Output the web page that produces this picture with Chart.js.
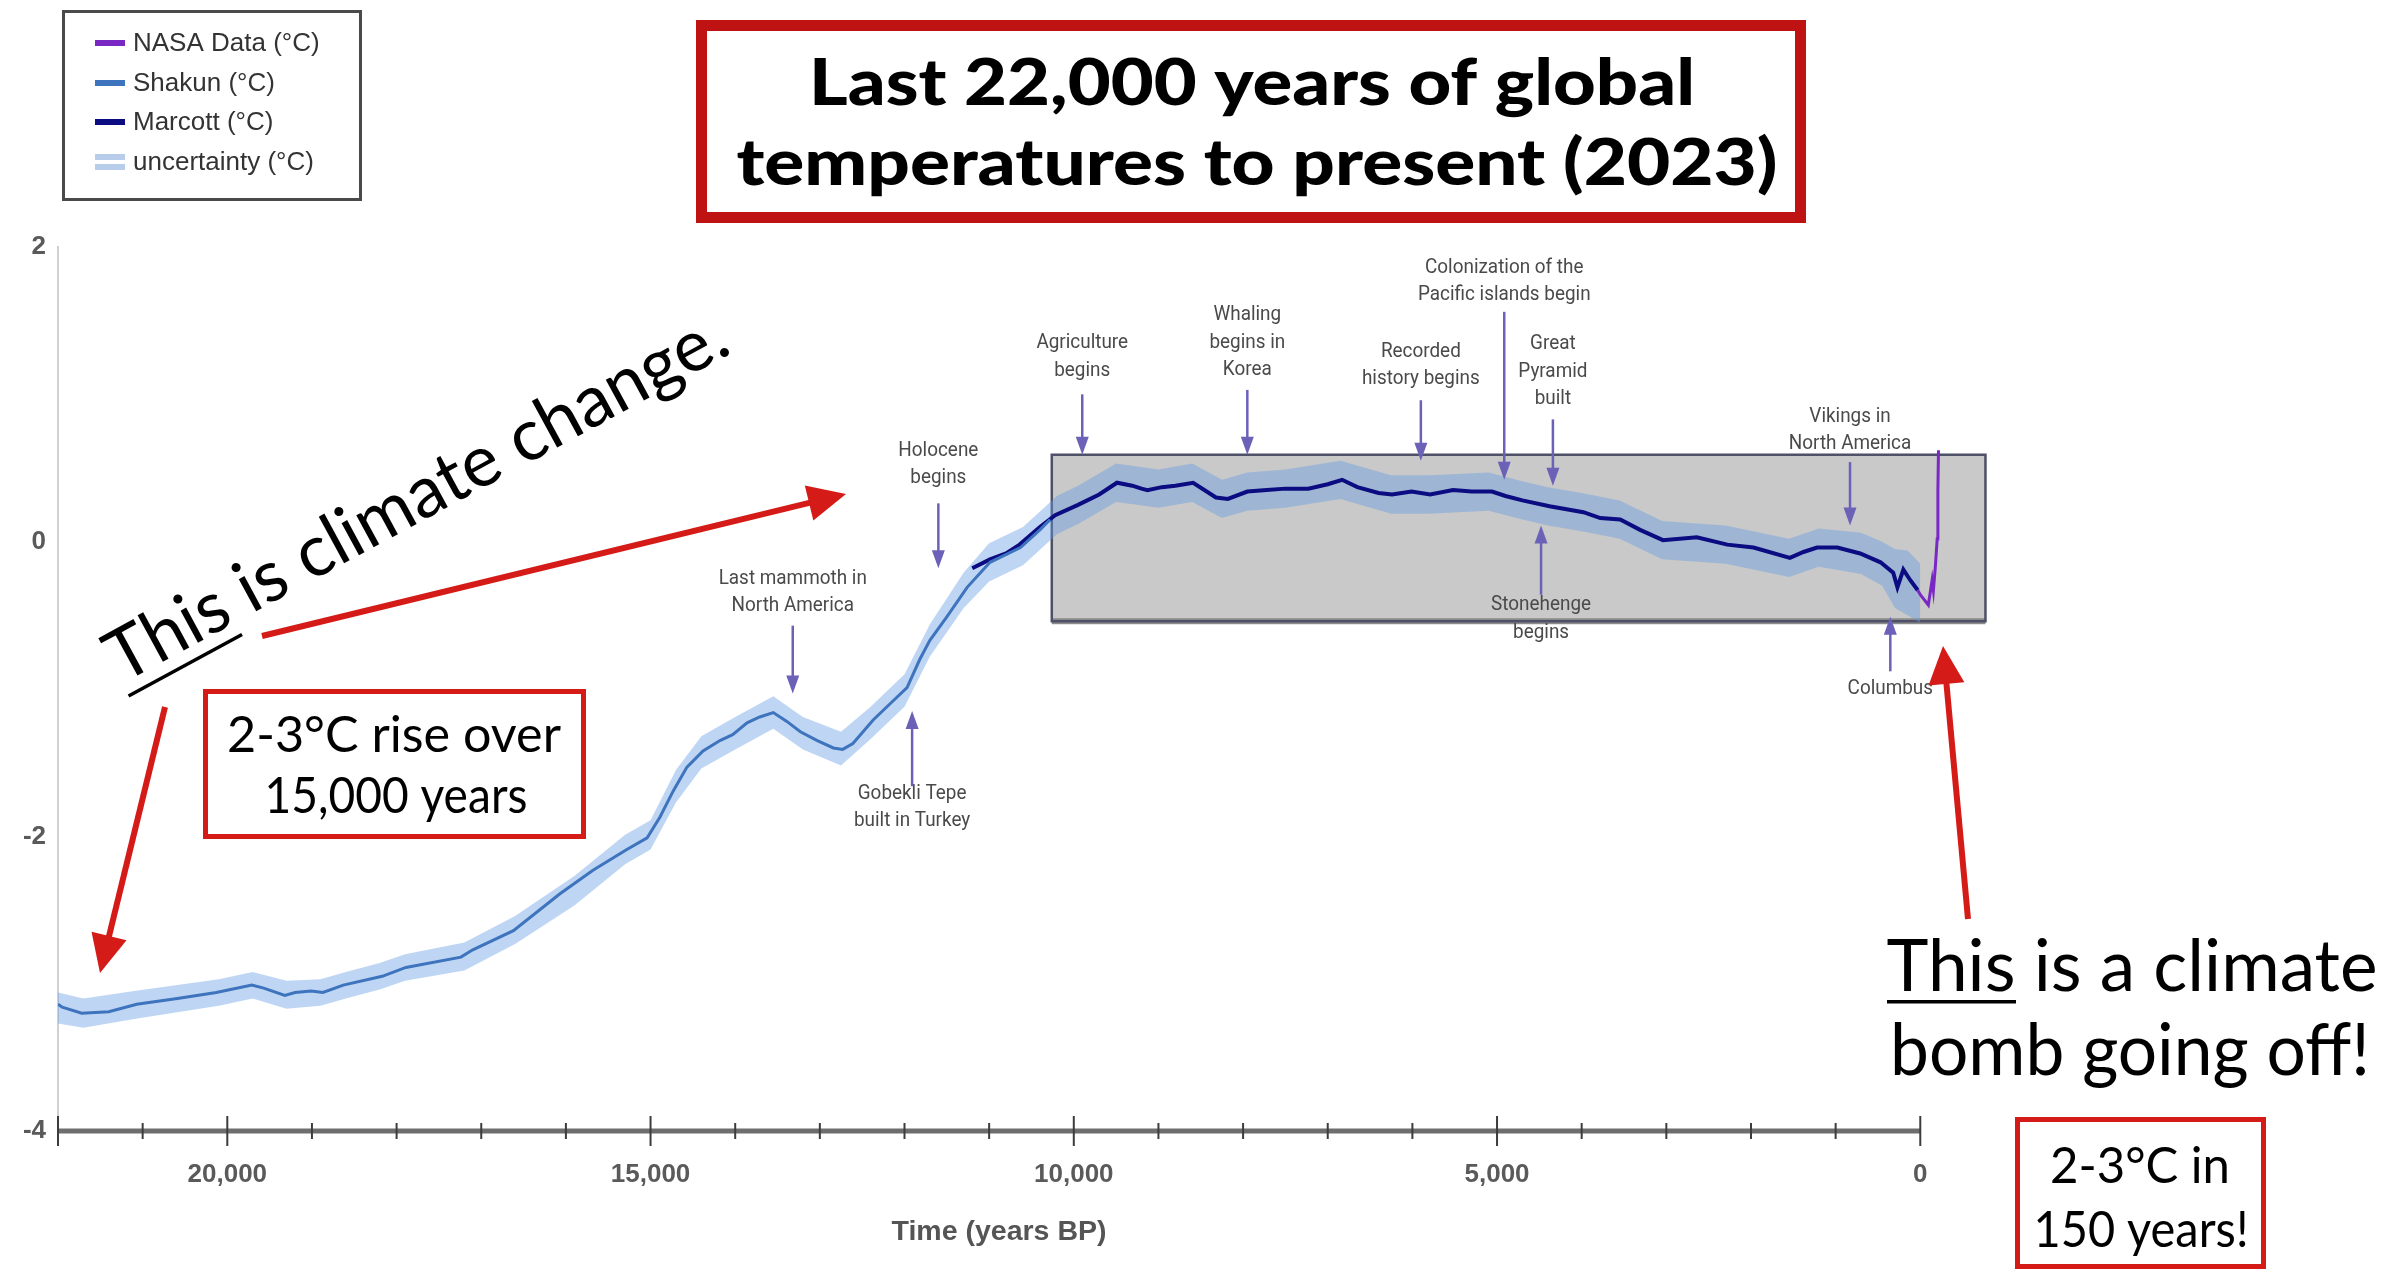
<!DOCTYPE html>
<html>
<head>
<meta charset="utf-8">
<script src="https://cdn.jsdelivr.net/npm/chart.js@4.4.1/dist/chart.umd.min.js"></script>
<style>
  html, body { margin: 0; padding: 0; background: #fff; overflow: hidden; }
  #wrap { position: relative; width: 2390px; height: 1274px; }
</style>
</head>
<body>
<div id="wrap"><canvas id="chart" width="2390" height="1274"></canvas></div>
<script>
// years before present (BP) and temperature anomaly (°C)
const YEARS_SHAKUN = [22000, 21950, 21720, 21400, 21070, 20590, 20130, 19710, 19570, 19320, 19200, 19010, 18870, 18630, 18170, 17890, 17240, 17100, 16620, 16070, 15680, 15280, 15040, 14890, 14730, 14570, 14380, 14180, 14030, 13860, 13710, 13550, 13390, 13230, 13030, 12840, 12730, 12610, 12370, 12170, 11970, 11820, 11700, 11500, 11260, 10990, 10630, 10400, 10280];
const TEMP_SHAKUN  = [-3.14, -3.16, -3.20, -3.19, -3.14, -3.10, -3.06, -3.01, -3.03, -3.08, -3.06, -3.05, -3.06, -3.01, -2.95, -2.89, -2.82, -2.77, -2.64, -2.39, -2.23, -2.09, -2.01, -1.87, -1.69, -1.53, -1.42, -1.35, -1.31, -1.23, -1.19, -1.16, -1.22, -1.29, -1.35, -1.40, -1.41, -1.37, -1.21, -1.10, -0.99, -0.80, -0.67, -0.51, -0.31, -0.14, -0.04, 0.08, 0.15];

const YEARS_MARCOTT = [11200, 10990, 10800, 10640, 10400, 10220, 9950, 9700, 9490, 9310, 9200, 9130, 8960, 8800, 8590, 8320, 8180, 7950, 7720, 7500, 7230, 7000, 6830, 6650, 6400, 6240, 6010, 5790, 5520, 5300, 5060, 4900, 4700, 4380, 3980, 3780, 3545, 3310, 3040, 2640, 2280, 1970, 1540, 1380, 1220, 980, 710, 470, 320, 270, 200, 120, 30];
const TEMP_MARCOTT  = [-0.18, -0.12, -0.08, -0.02, 0.10, 0.18, 0.25, 0.32, 0.40, 0.38, 0.36, 0.35, 0.37, 0.38, 0.40, 0.30, 0.29, 0.34, 0.35, 0.36, 0.36, 0.39, 0.42, 0.37, 0.33, 0.32, 0.34, 0.32, 0.35, 0.34, 0.34, 0.31, 0.28, 0.24, 0.20, 0.16, 0.15, 0.08, 0.01, 0.03, -0.02, -0.04, -0.11, -0.07, -0.04, -0.04, -0.08, -0.14, -0.21, -0.31, -0.19, -0.26, -0.33];

const YEARS_NASA = [30, 0, -95, -140, -155, -178, -200, -208, -215];
const TEMP_NASA  = [-0.33, -0.36, -0.43, -0.26, -0.33, -0.17, 0.02, 0.35, 0.62];

const YEARS_BAND = [22000, 21700, 21100, 20100, 19700, 19300, 18900, 18600, 18200, 17900, 17200, 16600, 15900, 15300, 15000, 14700, 14400, 14000, 13550, 13200, 12750, 12400, 12000, 11700, 11300, 11000, 10600, 10200, 9950, 9500, 9000, 8600, 8250, 7950, 7500, 6850, 6250, 5800, 5100, 4700, 4400, 4000, 3550, 3050, 2300, 1550, 1200, 700, 450, 300, 150, 0];
const BAND_HIGH  = [-3.06, -3.10, -3.05, -2.97, -2.92, -2.98, -2.97, -2.92, -2.86, -2.80, -2.72, -2.54, -2.27, -1.99, -1.89, -1.55, -1.32, -1.19, -1.05, -1.19, -1.29, -1.12, -0.90, -0.56, -0.21, -0.01, 0.10, 0.31, 0.38, 0.53, 0.49, 0.53, 0.42, 0.47, 0.49, 0.55, 0.45, 0.45, 0.47, 0.41, 0.37, 0.33, 0.28, 0.14, 0.11, 0.02, 0.09, 0.06, 0.00, -0.05, -0.06, -0.15];
const BAND_LOW   = [-3.27, -3.30, -3.24, -3.15, -3.10, -3.17, -3.15, -3.10, -3.04, -2.98, -2.91, -2.73, -2.47, -2.19, -2.09, -1.77, -1.54, -1.41, -1.27, -1.41, -1.52, -1.34, -1.12, -0.78, -0.45, -0.27, -0.16, 0.05, 0.12, 0.27, 0.23, 0.27, 0.16, 0.21, 0.23, 0.29, 0.19, 0.19, 0.21, 0.15, 0.11, 0.07, 0.02, -0.12, -0.15, -0.24, -0.17, -0.22, -0.30, -0.45, -0.50, -0.55];

const X_TICK_YEARS = [22000, 21000, 20000, 19000, 18000, 17000, 16000, 15000, 14000, 13000, 12000, 11000, 10000, 9000, 8000, 7000, 6000, 5000, 4000, 3000, 2000, 1000, 0];
const X_LABELED = [20000, 15000, 10000, 5000, 0];
const Y_TICKS = [2, 0, -2, -4];

// highlighted Holocene window: years (left, right) and temps (bottom, top)
const BOX_YEARS = [10260, -770];
const BOX_TEMPS = [-0.54, 0.59];

// event callouts: year, text lines, temp of first text line, arrow from/to temps
const EVENTS = [
  { year: 13320, lines: ['Last mammoth in', 'North America'], text: -0.25, from: -0.57, to: -1.03 },
  { year: 11910, lines: ['Gobekli Tepe', 'built in Turkey'], text: -1.71, from: -1.66, to: -1.15 },
  { year: 11600, lines: ['Holocene', 'begins'], text: 0.62, from: 0.26, to: -0.18 },
  { year: 9900,  lines: ['Agriculture', 'begins'], text: 1.35, from: 1.00, to: 0.59 },
  { year: 7950,  lines: ['Whaling', 'begins in', 'Korea'], text: 1.54, from: 1.03, to: 0.59 },
  { year: 5900,  lines: ['Recorded', 'history begins'], text: 1.29, from: 0.96, to: 0.55 },
  { year: 4915,  lines: ['Colonization of the', 'Pacific islands begin'], text: 1.86, from: 1.56, to: 0.42 },
  { year: 4340,  lines: ['Great', 'Pyramid', 'built'], text: 1.34, from: 0.83, to: 0.38 },
  { year: 4480,  lines: ['Stonehenge', 'begins'], text: -0.43, from: -0.36, to: 0.11 },
  { year: 830,   lines: ['Vikings in', 'North America'], text: 0.85, from: 0.54, to: 0.11 },
  { year: 354,   lines: ['Columbus'], text: -1.00, from: -0.88, to: -0.51 }
];

const pts = (xs, ys) => xs.map((x, i) => ({ x: x, y: ys[i] }));

const RED = '#d51b17';

function arrow(ctx, x1, y1, x2, y2, color, width, headLen, headW) {
  const a = Math.atan2(y2 - y1, x2 - x1);
  const c = Math.cos(a), s = Math.sin(a);
  ctx.strokeStyle = color;
  ctx.fillStyle = color;
  ctx.lineWidth = width;
  ctx.beginPath();
  ctx.moveTo(x1, y1);
  ctx.lineTo(x2 - c * headLen * 0.8, y2 - s * headLen * 0.8);
  ctx.stroke();
  ctx.beginPath();
  ctx.moveTo(x2, y2);
  ctx.lineTo(x2 - headLen * c + headW / 2 * s, y2 - headLen * s - headW / 2 * c);
  ctx.lineTo(x2 - headLen * c - headW / 2 * s, y2 - headLen * s + headW / 2 * c);
  ctx.closePath();
  ctx.fill();
}

// draw a line of text squeezed/stretched to a given width
function fitText(ctx, str, x, y, w, font, color, align) {
  ctx.save();
  ctx.font = font;
  ctx.fillStyle = color;
  const k = w / ctx.measureText(str).width;
  ctx.translate(x, y);
  ctx.scale(k, 1);
  ctx.textAlign = align || 'center';
  ctx.textBaseline = 'alphabetic';
  ctx.fillText(str, 0, 0);
  ctx.restore();
  return k;
}

const decor = {
  id: 'decor',
  beforeDatasetsDraw(chart) {
    const { ctx, scales: { x, y } } = chart;
    const x1 = x.getPixelForValue(BOX_YEARS[0]), x2 = x.getPixelForValue(BOX_YEARS[1]);
    const y1 = y.getPixelForValue(BOX_TEMPS[1]), y2 = y.getPixelForValue(BOX_TEMPS[0]);
    ctx.save();
    ctx.fillStyle = '#c9c9c9';
    ctx.fillRect(x1, y1, x2 - x1, y2 - y1);
    ctx.fillStyle = '#8c8c8c';
    ctx.fillRect(x1, y2 - 3, x2 - x1, 6);
    ctx.strokeStyle = '#4d5066';
    ctx.lineWidth = 2.5;
    ctx.strokeRect(x1, y1, x2 - x1, y2 - y1);
    ctx.restore();
  },
  afterDatasetsDraw(chart) {
    const { ctx, scales: { x, y } } = chart;
    ctx.save();
    ctx.font = '21px Roboto';
    ctx.textAlign = 'center';
    ctx.textBaseline = 'middle';
    EVENTS.forEach(ev => {
      const px = x.getPixelForValue(ev.year);
      const ty = y.getPixelForValue(ev.text);
      ev.lines.forEach((l, i) => {
        ctx.save();
        ctx.translate(px, ty + i * 27.5);
        ctx.scale(0.9, 1);
        ctx.fillStyle = '#4a4a4a';
        ctx.fillText(l, 0, 0);
        ctx.restore();
      });
      arrow(ctx, px, y.getPixelForValue(ev.from), px, y.getPixelForValue(ev.to), '#6b62b8', 2.5, 18, 13);
    });
    ctx.restore();
  },
  afterDraw(chart) {
    const { ctx, scales: { x } } = chart;
    const base = chart.chartArea.bottom;
    ctx.save();

    // x axis line and tick marks, 22,000 BP to present
    ctx.strokeStyle = '#6e6e6e';
    ctx.lineWidth = 5;
    ctx.beginPath();
    ctx.moveTo(x.getPixelForValue(22000), base);
    ctx.lineTo(x.getPixelForValue(0), base);
    ctx.stroke();
    ctx.strokeStyle = '#3c3c3c';
    ctx.lineWidth = 2;
    X_TICK_YEARS.forEach(v => {
      const px = x.getPixelForValue(v);
      const h = (v % 5000 === 0 || v === 22000) ? 15 : 8;
      ctx.beginPath();
      ctx.moveTo(px, base - h);
      ctx.lineTo(px, base + h);
      ctx.stroke();
    });
    fitText(ctx, 'Time (years BP)', 999, 1240, 215, 'bold 27px "Liberation Sans"', '#555');

    // legend
    ctx.strokeStyle = '#4a4a4a';
    ctx.lineWidth = 3;
    ctx.strokeRect(63.5, 11.5, 297, 188);
    const rows = [43, 83, 122, 162];
    const entries = chart.data.datasets.filter(d => d.label);
    ctx.font = '26px "Liberation Sans"';
    ctx.textBaseline = 'middle';
    ctx.textAlign = 'left';
    entries.forEach((d, i) => {
      const ry = rows[i];
      if (d.fill) {
        ctx.fillStyle = '#b7cdea';
        ctx.fillRect(95, ry - 8, 30, 6);
        ctx.fillRect(95, ry + 2, 30, 6);
      } else {
        ctx.fillStyle = d.borderColor;
        ctx.fillRect(95, ry - 3, 30, 6);
      }
      ctx.fillStyle = '#333';
      ctx.fillText(d.label, 133, ry + 1);
    });

    // title box
    ctx.strokeStyle = '#bf1212';
    ctx.lineWidth = 11;
    ctx.strokeRect(701.5, 25.5, 1099, 192);
    fitText(ctx, 'Last 22,000 years of global', 1252, 105, 886, '900 64px Lato', '#000');
    fitText(ctx, 'temperatures to present (2023)', 1257, 185, 1041, '900 64px Lato', '#000');

    // red callout boxes
    ctx.strokeStyle = RED;
    ctx.lineWidth = 5;
    ctx.strokeRect(205.5, 691.5, 378, 145);
    fitText(ctx, '2-3°C rise over', 394, 752, 334, '50px Lato', '#000');
    fitText(ctx, '15,000 years', 396, 813, 263, '50px Lato', '#000');
    ctx.strokeRect(2017.5, 1119.5, 246, 147);
    fitText(ctx, '2-3°C in', 2140, 1183, 180, '51px Lato', '#000');
    fitText(ctx, '150 years!', 2141, 1247, 215, '51px Lato', '#000');

    // rotated caption
    ctx.save();
    ctx.translate(122, 684);
    ctx.rotate(-28.5 * Math.PI / 180);
    ctx.font = '72px Lato';
    const full = 'This is climate change.';
    const k = 696 / ctx.measureText(full).width;
    ctx.scale(k, 1);
    ctx.fillStyle = '#000';
    ctx.textAlign = 'left';
    ctx.textBaseline = 'alphabetic';
    ctx.fillText(full, 0, 0);
    ctx.fillRect(0, 12, ctx.measureText('This').width, 3.5);
    ctx.restore();

    // right caption
    const k2 = fitText(ctx, 'This is a climate', 2132, 991, 491, '71px Lato', '#000');
    ctx.font = '71px Lato';
    ctx.fillStyle = '#000';
    ctx.fillRect(1887, 1000, ctx.measureText('This').width * k2, 3.5);
    fitText(ctx, 'bomb going off!', 2130, 1075, 480, '71px Lato', '#000');

    // red arrows
    arrow(ctx, 262, 636, 846, 494, RED, 6, 38, 36);
    arrow(ctx, 165, 707, 100, 973, RED, 6, 38, 36);
    arrow(ctx, 1968, 919, 1943, 646, RED, 6, 38, 36);

    ctx.restore();
  }
};

const tickFont = { family: 'Liberation Sans', size: 26, weight: 'bold' };

new Chart(document.getElementById('chart'), {
  type: 'line',
  data: {
    datasets: [
      { label: 'NASA Data (°C)', data: pts(YEARS_NASA, TEMP_NASA), borderColor: '#7a28c4', borderWidth: 3, pointRadius: 0, fill: false },
      { label: 'Shakun (°C)', data: pts(YEARS_SHAKUN, TEMP_SHAKUN), borderColor: '#3e73bd', borderWidth: 3, pointRadius: 0, fill: false, hidden: false, order: 0, _legendOnly: false },
      { label: 'Marcott (°C)', data: pts(YEARS_MARCOTT, TEMP_MARCOTT), borderColor: '#0c0c82', borderWidth: 4, pointRadius: 0, fill: false },
      { label: 'uncertainty (°C)', data: pts(YEARS_BAND, BAND_HIGH), borderWidth: 0, borderColor: 'rgba(0,0,0,0)', pointRadius: 0, fill: '+1', backgroundColor: 'rgba(100,158,228,0.42)' },
      { label: '', data: pts(YEARS_BAND, BAND_LOW), borderWidth: 0, borderColor: 'rgba(0,0,0,0)', pointRadius: 0, fill: false }
    ]
  },
  options: {
    responsive: false,
    animation: false,
    devicePixelRatio: 1,
    layout: { padding: { top: 247, right: 402, bottom: 0, left: 0 } },
    plugins: { legend: { display: false }, tooltip: { enabled: false } },
    elements: { line: { tension: 0 } },
    scales: {
      x: {
        type: 'linear',
        reverse: true,
        min: -800,
        max: 22000,
        grid: { display: false, drawTicks: false },
        border: { display: false },
        afterBuildTicks: (scale) => { scale.ticks = X_TICK_YEARS.map(v => ({ value: v })); },
        afterFit: (scale) => { scale.height = 143; },
        ticks: {
          autoSkip: false,
          maxRotation: 0,
          padding: 28,
          color: '#5a5a5a',
          font: tickFont,
          callback: (v) => X_LABELED.includes(v) ? v.toLocaleString('en-US') : ''
        }
      },
      y: {
        min: -4,
        max: 2,
        grid: { display: false, drawTicks: false },
        border: { display: true, color: '#d0d0d0', width: 2 },
        afterBuildTicks: (scale) => { scale.ticks = Y_TICKS.map(v => ({ value: v })); },
        afterFit: (scale) => { scale.width = 58; },
        ticks: { padding: 12, color: '#5a5a5a', font: tickFont }
      }
    }
  },
  plugins: [decor]
});
</script>
</body>
</html>
